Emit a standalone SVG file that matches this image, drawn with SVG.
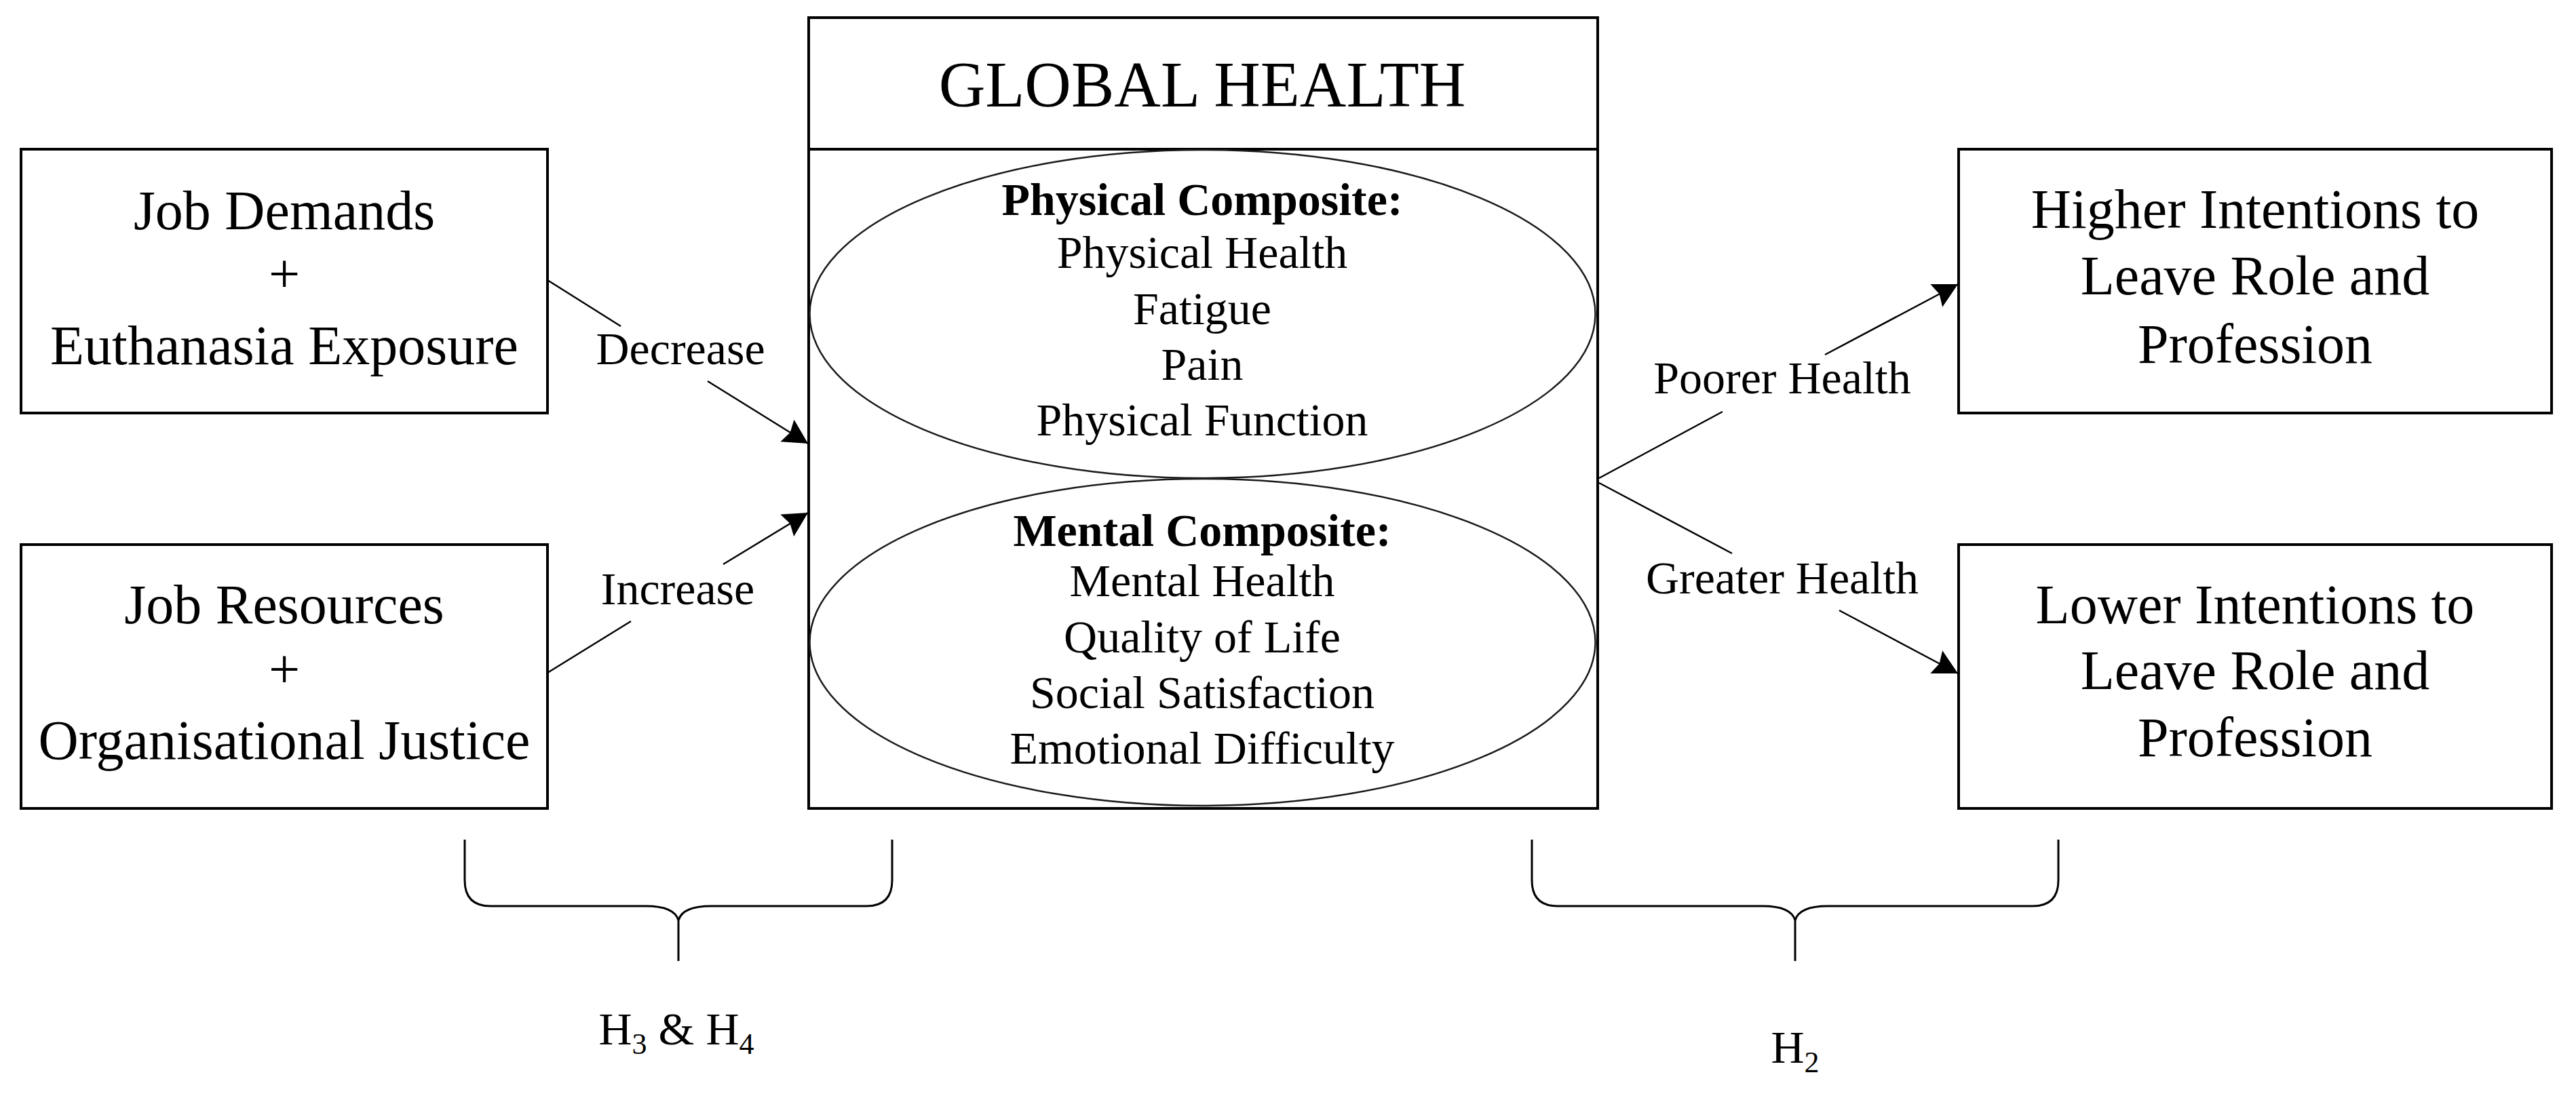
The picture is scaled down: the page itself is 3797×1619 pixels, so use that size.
<svg xmlns="http://www.w3.org/2000/svg" width="3797" height="1619" viewBox="0 0 3797 1619">
<style>
.box{fill:#fff;stroke:#000;stroke-width:4}
.ell{fill:none;stroke:#1a1a1a;stroke-width:2.5}
.t{font-family:"Liberation Serif","Times New Roman",serif;fill:#000;text-anchor:middle}
.big{font-size:82px}
.mid{font-size:68px}
.title{font-size:95px}
.b{font-weight:bold}
.conn{fill:none;stroke:#000;stroke-width:2.5}
.brace{fill:none;stroke:#000;stroke-width:3}
</style>
<defs>
<marker id="arr" markerUnits="userSpaceOnUse" markerWidth="38" markerHeight="42" refX="36" refY="21" orient="auto" viewBox="0 0 38 42">
<path d="M0,2 L36,21 L0,40 L5,21 z" fill="#000"/>
</marker>
</defs>
<rect width="3797" height="1619" fill="#fff"/>

<g id="job-demands">
<rect class="box" x="31" y="220" width="776" height="389"/>
<text class="t big" x="419" y="338">Job Demands</text>
<text class="t big" x="419" y="431">+</text>
<text class="t big" x="419" y="537">Euthanasia Exposure</text>
</g>

<g id="job-resources">
<rect class="box" x="31" y="803" width="776" height="389"/>
<text class="t big" x="419" y="919">Job Resources</text>
<text class="t big" x="419" y="1014">+</text>
<text class="t big" x="419" y="1119">Organisational Justice</text>
</g>

<g id="global-health">
<rect class="box" x="1192" y="26" width="1163" height="1166"/>
<line x1="1192" y1="220" x2="2355" y2="220" stroke="#000" stroke-width="4"/>
<text class="t title" x="1772" y="157">GLOBAL HEALTH</text>
</g>

<g id="physical-composite">
<ellipse class="ell" cx="1772.5" cy="463" rx="579" ry="242"/>
<text class="t mid b" x="1772" y="317">Physical Composite:</text>
<text class="t mid" x="1772" y="395">Physical Health</text>
<text class="t mid" x="1772" y="478">Fatigue</text>
<text class="t mid" x="1772" y="560">Pain</text>
<text class="t mid" x="1772" y="642">Physical Function</text>
</g>

<g id="mental-composite">
<ellipse class="ell" cx="1772.5" cy="947" rx="579" ry="241"/>
<text class="t mid b" x="1772" y="805">Mental Composite:</text>
<text class="t mid" x="1772" y="879">Mental Health</text>
<text class="t mid" x="1772" y="962">Quality of Life</text>
<text class="t mid" x="1772" y="1044">Social Satisfaction</text>
<text class="t mid" x="1772" y="1126">Emotional Difficulty</text>
</g>

<g id="higher-intentions">
<rect class="box" x="2887" y="220" width="874" height="389"/>
<text class="t big" x="3324" y="336">Higher Intentions to</text>
<text class="t big" x="3324" y="434">Leave Role and</text>
<text class="t big" x="3324" y="535">Profession</text>
</g>

<g id="lower-intentions">
<rect class="box" x="2887" y="803" width="874" height="389"/>
<text class="t big" x="3324" y="919">Lower Intentions to</text>
<text class="t big" x="3324" y="1016">Leave Role and</text>
<text class="t big" x="3324" y="1115">Profession</text>
</g>

<g id="connectors">
<path class="conn" d="M807,413 L915,481 M1043,562 L1191,654" marker-end="url(#arr)"/>
<text class="t mid" x="1003" y="537">Decrease</text>
<path class="conn" d="M807,992 L930,916 M1066,832 L1191,756" marker-end="url(#arr)"/>
<text class="t mid" x="999" y="891">Increase</text>
<path class="conn" d="M2357,705 L2539,607 M2690,523 L2886,419" marker-end="url(#arr)"/>
<text class="t mid" x="2627" y="580">Poorer Health</text>
<path class="conn" d="M2357,712 L2553,816 M2711,900 L2886,993" marker-end="url(#arr)"/>
<text class="t mid" x="2627" y="875">Greater Health</text>
</g>

<g id="brace-left">
<path class="brace" d="M685,1238 V1298 Q685,1336 723,1336 H952 Q994,1336 1000,1357 Q1006,1336 1048,1336 H1277 Q1315,1336 1315,1298 V1238 M1000,1357 V1417"/>
<text class="t mid" x="997" y="1540">H<tspan font-size="44" dy="14">3</tspan><tspan dy="-14"> &amp; H</tspan><tspan font-size="44" dy="14">4</tspan></text>
</g>

<g id="brace-right">
<path class="brace" d="M2258,1238 V1298 Q2258,1336 2296,1336 H2598 Q2640,1336 2646,1357 Q2652,1336 2694,1336 H2996 Q3034,1336 3034,1298 V1238 M2646,1357 V1417"/>
<text class="t mid" x="2646" y="1567">H<tspan font-size="44" dy="14">2</tspan></text>
</g>
</svg>
